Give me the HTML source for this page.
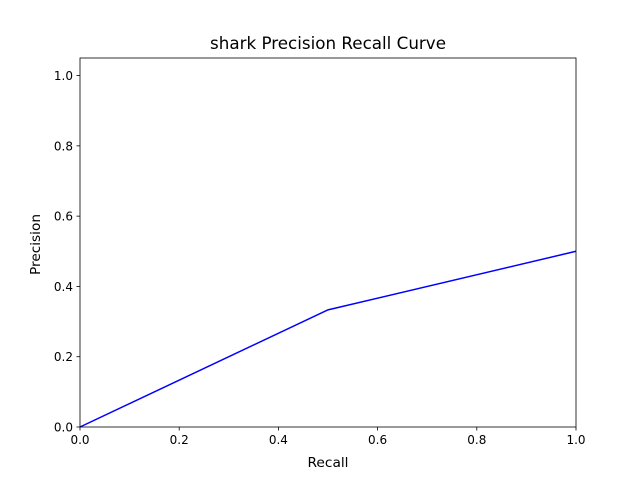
<!DOCTYPE html>
<html><head><meta charset="utf-8"><style>
html,body{margin:0;padding:0;background:#fff;}
svg text{font-family:"DejaVu Sans","Liberation Sans",sans-serif;fill:#000;}
</style></head><body>
<svg id="chart" width="640" height="480" viewBox="0 0 640 480">
<rect x="0" y="0" width="640" height="480" fill="#fff"/>
<text x="328" y="49" font-size="16.4" text-anchor="middle" textLength="236" lengthAdjust="spacingAndGlyphs">shark Precision Recall Curve</text>
<g id="ticks"></g>
<polyline id="curve" fill="none" stroke="#0000ff" stroke-width="1.5"/>
<rect x="80" y="58" width="496" height="369" fill="none" stroke="#000" stroke-width="0.8"/>
<text x="328" y="467" font-size="13.5" text-anchor="middle" textLength="41" lengthAdjust="spacingAndGlyphs">Recall</text>
<text x="0" y="0" font-size="13.5" text-anchor="middle" textLength="61" lengthAdjust="spacingAndGlyphs" transform="translate(40,244.5) rotate(-90)">Precision</text>
</svg>
<script>
const recall = [0, 0.5, 1.0];
const precision = [0, 0.3333, 0.5];
const xTicks = [0, 0.2, 0.4, 0.6, 0.8, 1.0];
const yTicks = [0, 0.2, 0.4, 0.6, 0.8, 1.0];
const xTickLabels = ["0.0","0.2","0.4","0.6","0.8","1.0"];
const yTickLabels = ["0.0","0.2","0.4","0.6","0.8","1.0"];

const L=80,R=576,T=58,B=427,yMax=1.05;
function sx(v){return L+(R-L)*v;}
function sy(v){return B-(B-T)*v/yMax;}
const NS="http://www.w3.org/2000/svg";
const g=document.getElementById('ticks');
xTicks.forEach((v,i)=>{
  const l=document.createElementNS(NS,'line');
  l.setAttribute('x1',sx(v));l.setAttribute('x2',sx(v));l.setAttribute('y1',B);l.setAttribute('y2',B+3.5);
  l.setAttribute('stroke','#000');l.setAttribute('stroke-width','0.8');
  
  
  g.appendChild(l);
  const t=document.createElementNS(NS,'text');
  t.setAttribute('x',sx(v));t.setAttribute('y',B+17);t.setAttribute('font-size','12');t.setAttribute('text-anchor','middle');
  t.textContent=xTickLabels[i];
  
  
  g.appendChild(t);
});
yTicks.forEach((v,i)=>{
  const l=document.createElementNS(NS,'line');
  l.setAttribute('x1',L-3.5);l.setAttribute('x2',L);l.setAttribute('y1',sy(v));l.setAttribute('y2',sy(v));
  l.setAttribute('stroke','#000');l.setAttribute('stroke-width','0.8');
  
  
  g.appendChild(l);
  const t=document.createElementNS(NS,'text');
  t.setAttribute('x',L-7);t.setAttribute('y',sy(v)+4.5);t.setAttribute('font-size','12');t.setAttribute('text-anchor','end');
  t.textContent=yTickLabels[i];
  
  
  g.appendChild(t);
});
document.getElementById('curve').setAttribute('points',recall.map((r,i)=>sx(r)+','+sy(precision[i])).join(' '));
</script>
</body></html>
